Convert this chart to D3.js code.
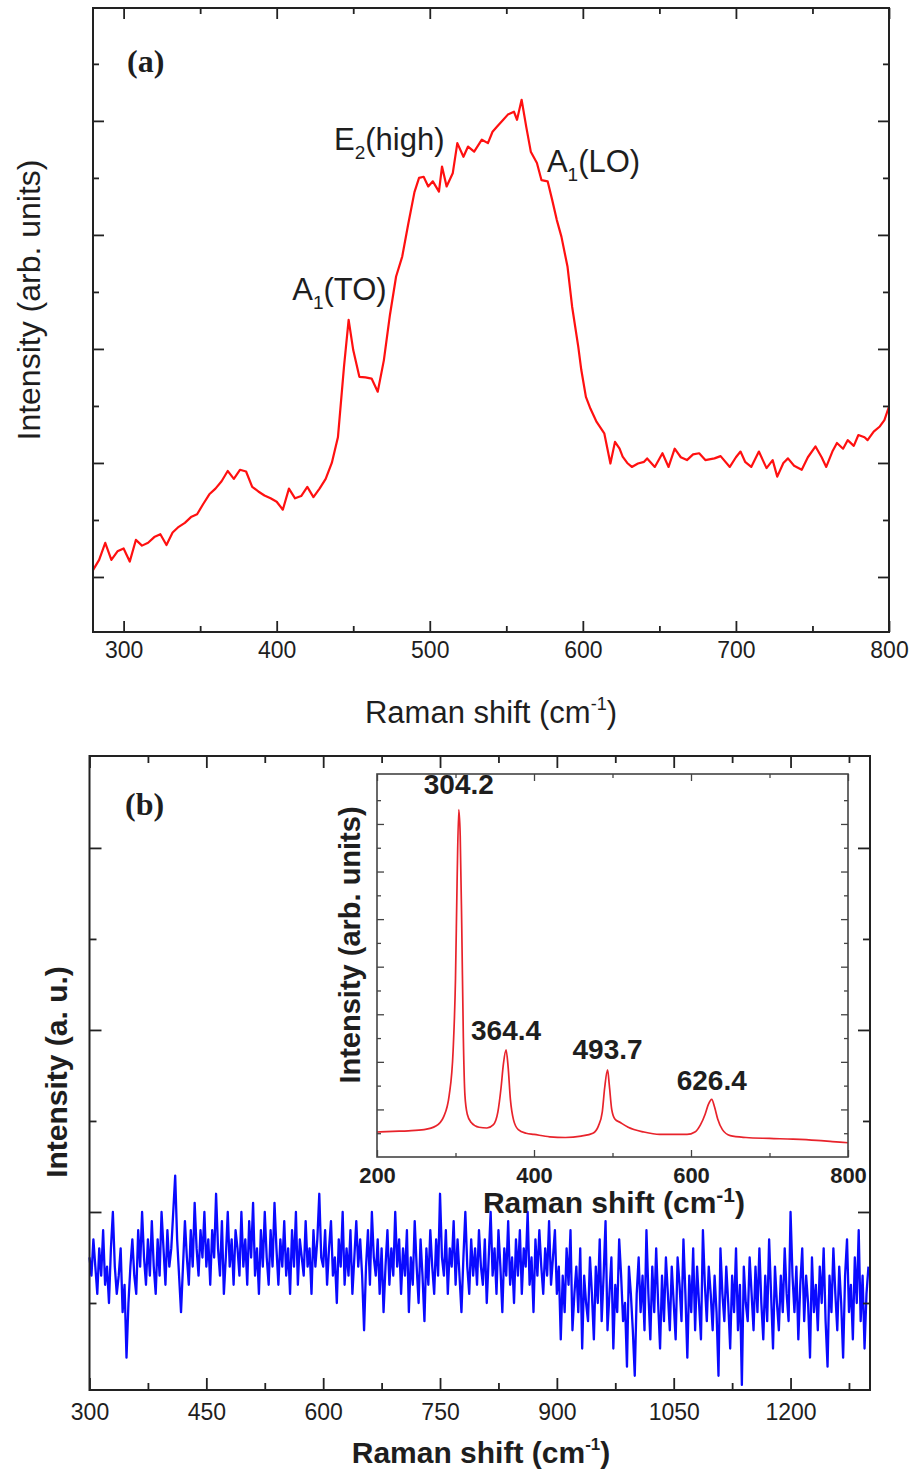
<!DOCTYPE html>
<html><head><meta charset="utf-8">
<script src="https://cdn.jsdelivr.net/npm/d3@7"></script>
<style>body{margin:0;background:#fff}svg{display:block}</style>
</head><body>
<svg id="c" width="912" height="1473"></svg>
<script>
// ---------- DATA ----------
// Panel (a): Raman spectrum (red)
const ramanAX = [280,284,288,292,296,300,304,308,312,316,320,324,328,332,336,340,344,348,352,356,360,364,368,372,376,380,384,388,392,396,400,404,408,412,416,420,424,428,432,436,440,444,447,450,454,458,462,466,470,474,478,482,486,490,493,496,499,502,506,508,511,515,518,522,525,529,534,538,541,544,548,551,555,557,560,563,566,570,573,577,580,583,586,590,593,597,599,602,605,609,614,618,621,624,626,629,632,636,640,642,647,652,656,660,664,668,672,676,680,686,690,696,700,703,706,710,715,720,724,727,731,734,738,743,747,752,756,759,763,766,770,773,777,780,784,786,790,794,797,800];
const ramanAY = [1.12,1.30,1.60,1.30,1.45,1.50,1.27,1.65,1.55,1.60,1.70,1.75,1.56,1.78,1.88,1.95,2.05,2.10,2.28,2.45,2.55,2.68,2.86,2.72,2.88,2.85,2.58,2.50,2.43,2.38,2.32,2.18,2.55,2.38,2.42,2.58,2.40,2.55,2.72,3.00,3.45,4.70,5.51,4.98,4.51,4.50,4.48,4.25,4.80,5.60,6.27,6.62,7.20,7.75,8.00,8.02,7.85,7.94,7.76,8.20,7.85,8.08,8.61,8.37,8.55,8.46,8.67,8.61,8.81,8.90,9.02,9.11,9.16,9.02,9.37,8.90,8.46,8.26,7.96,7.94,7.61,7.26,6.97,6.44,5.74,5.04,4.63,4.16,3.95,3.72,3.52,2.99,3.37,3.25,3.11,3.00,2.93,2.99,3.02,3.08,2.93,3.17,2.93,3.25,3.10,3.05,3.15,3.17,3.05,3.08,3.12,2.93,3.10,3.20,3.02,2.93,3.20,2.91,3.05,2.76,3.00,3.08,2.95,2.88,3.10,3.29,3.10,2.93,3.20,3.35,3.25,3.40,3.30,3.49,3.45,3.40,3.55,3.64,3.75,3.99];
const peakLabelsA = [
  {main:"E", sub:"2", rest:"(high)", x:473.5, y:8.49},
  {main:"A", sub:"1", rest:"(LO)", x:607, y:8.10},
  {main:"A", sub:"1", rest:"(TO)", x:441, y:5.86}
];
const ticksAXMajor = [300,400,500,600,700,800];
const ticksAXMinor = [350,450,550,650,750];
const ticksAYMajor = [1,3,5,7,9];
const ticksAYMinor = [2,4,6,8,10];

// Panel (b): main spectrum (blue), 300-1300 cm-1 every 2.5 cm-1
const ramanBStart = 300, ramanBStep = 2.5;
const ramanBY = [
 105,103,107,104,101,106,103,108,102,104,100,106,110,104,101,103,106,99,102,94,
 100,104,107,103,101,108,104,110,105,102,107,103,109,104,101,107,103,110,106,102,
 108,104,106,110,114,107,103,99,104,109,105,102,108,104,111,106,103,108,105,110,
 104,107,102,108,105,112,106,103,109,101,105,110,104,107,102,108,106,103,110,104,
 107,102,109,105,111,103,106,101,108,104,110,105,102,108,104,111,106,102,107,104,
 109,103,106,101,108,104,110,102,107,105,103,109,104,106,101,108,104,107,112,105,
 104,108,102,106,109,103,105,100,107,104,110,102,106,103,108,101,105,109,104,107,
 103,97,104,108,102,110,105,103,107,101,106,99,104,108,102,106,103,110,104,107,
 101,106,103,108,99,105,102,109,104,100,107,103,98,106,102,108,104,101,107,103,
 112,105,103,108,101,106,104,109,102,107,103,99,105,110,104,101,107,103,106,102,
 108,104,102,107,100,105,110,103,106,101,108,104,99,106,103,109,102,105,100,107,
 103,108,101,106,104,110,102,105,99,107,103,108,104,101,106,103,109,102,105,108,
 101,104,96,103,99,106,102,108,97,101,104,99,106,95,103,100,98,105,101,96,
 104,100,107,98,103,109,97,101,105,95,102,99,107,103,98,100,93,104,101,97,
 92,101,105,99,103,97,108,101,96,104,99,106,100,95,103,98,105,101,97,104,
 100,96,105,102,98,107,101,94,103,99,106,97,104,100,96,108,102,98,104,101,
 97,103,99,92,106,101,98,104,100,95,103,99,106,97,102,91,104,100,98,105,
 101,97,104,99,106,100,96,103,98,107,101,95,104,100,97,103,99,106,101,98,
 110,103,99,104,96,102,106,98,103,100,94,105,99,102,97,104,100,106,98,93,
 103,99,106,101,97,104,100,94,103,107,99,102,96,105,100,108,98,103,95,101,
 104];
const ticksBXMajor = [300,450,600,750,900,1050,1200];
const ticksBXMinor = [375,525,675,825,975,1125,1275];
const ticksBYMajor = [110,130,150];
const ticksBYMinor = [100,120,140];

// Inset (red)
const insetX = [200,220,240,260,275,285,292,297,300,302,304.2,306,308,310,312,315,320,330,340,348,354,358,361,364.4,367,370,374,380,390,400,420,440,460,475,482,487,490,493.7,496,499,503,510,520,540,560,580,595,605,612,618,622,626.4,630,634,640,650,670,700,730,760,780,800];
const insetY = [1.05,1.08,1.10,1.15,1.30,1.70,2.60,4.5,7.5,11.5,14.6,13.5,9.6,5.0,2.6,1.8,1.45,1.25,1.22,1.35,1.9,2.9,3.9,4.5,3.8,2.4,1.55,1.15,1.0,0.95,0.85,0.82,0.88,1.0,1.3,1.9,2.9,3.66,3.0,2.0,1.6,1.45,1.25,1.05,0.95,0.95,0.95,1.05,1.35,1.8,2.2,2.42,2.1,1.6,1.15,0.9,0.82,0.78,0.75,0.7,0.65,0.60];
const insetPeaks = [
  {label:"304.2", x:304.2, y:15.25},
  {label:"364.4", x:364.4, y:4.9},
  {label:"493.7", x:493.7, y:4.1},
  {label:"626.4", x:626.4, y:2.8}
];
const ticksIXMajor = [200,400,600,800];
const ticksIXMinor = [300,500,700];
const ticksIYMajor = [2,4,6,8,10,12,14];
const ticksIYMinor = [1,3,5,7,9,11,13,15];

// ---------- DRAW ----------
const svg = d3.select("#c");
const SANS = "'Liberation Sans', Arial, Helvetica, sans-serif";
const SERIF = "'Liberation Serif', 'Times New Roman', serif";
const TXT = "#1e1e1e";

function frame(g, x, y, o) {
  const [x0,x1] = x.range(), [y0,y1] = y.range(); // y0 bottom
  const mk = (axis, tr, vals, len, labels) => {
    const a = axis.tickValues(vals).tickSizeInner(-len).tickSizeOuter(0).tickPadding(o.pad||8);
    if (!labels) a.tickFormat(""); else a.tickFormat(d3.format("d"));
    const ag = g.append("g").attr("transform", tr).call(a);
    ag.select(".domain").remove();
    ag.selectAll("line").attr("stroke", o.col).attr("stroke-width", o.tw);
    return ag;
  };
  const bl = mk(d3.axisBottom(x), `translate(0,${y0})`, o.xMaj, o.maj, true);
  bl.selectAll("text").attr("font-family", SANS).attr("font-size", o.tfs)
    .attr("font-weight", o.tbold?"bold":"normal").attr("fill", TXT);
  mk(d3.axisBottom(x), `translate(0,${y0})`, o.xMin, o.min, false);
  mk(d3.axisTop(x), `translate(0,${y1})`, o.xMaj, o.maj, false);
  mk(d3.axisTop(x), `translate(0,${y1})`, o.xMin, o.min, false);
  mk(d3.axisLeft(y), `translate(${x0},0)`, o.yMaj, o.maj, false);
  mk(d3.axisLeft(y), `translate(${x0},0)`, o.yMin, o.min, false);
  mk(d3.axisRight(y), `translate(${x1},0)`, o.yMaj, o.maj, false);
  mk(d3.axisRight(y), `translate(${x1},0)`, o.yMin, o.min, false);
  g.append("rect").attr("x", x0).attr("y", y1).attr("width", x1-x0).attr("height", y0-y1)
    .attr("fill", "none").attr("stroke", o.col).attr("stroke-width", o.fw);
}
function xTitle(g, x, y, fs, bold, supFs, supDy) {
  const t = g.append("text").attr("x", x).attr("y", y).attr("text-anchor","middle")
    .attr("font-family",SANS).attr("font-weight",bold?"bold":"normal").attr("font-size",fs).attr("fill",TXT);
  t.append("tspan").text("Raman shift (cm");
  t.append("tspan").attr("font-size",supFs).attr("dy",-supDy).text("-1");
  t.append("tspan").attr("dy",supDy).text(")");
}

// ===== Panel (a) =====
const xA = d3.scaleLinear().domain([280,800]).range([93,889]);
const yA = d3.scaleLinear().domain([0.035,10.98]).range([632,8]);
const gA = svg.append("g");
gA.append("path").datum(d3.zip(ramanAX, ramanAY))
  .attr("fill","none").attr("stroke","#ff1010").attr("stroke-width",2.2).attr("stroke-linejoin","round")
  .attr("d", d3.line().x(d=>xA(d[0])).y(d=>yA(d[1])));
frame(gA, xA, yA, {xMaj:ticksAXMajor, xMin:ticksAXMinor, yMaj:ticksAYMajor, yMin:ticksAYMinor,
  maj:11, min:6, col:"#222", tw:1.8, fw:2, tfs:23, pad:10});
gA.append("text").attr("x",127).attr("y",72).attr("font-family",SERIF).attr("font-weight","bold")
  .attr("font-size",32).attr("fill",TXT).text("(a)");
peakLabelsA.forEach(p=>{
  const t = gA.append("text").attr("x",xA(p.x)).attr("y",yA(p.y)).attr("text-anchor","middle")
    .attr("font-family",SANS).attr("font-size",31).attr("fill",TXT);
  t.append("tspan").text(p.main);
  t.append("tspan").attr("font-size",19).attr("dy",9).text(p.sub);
  t.append("tspan").attr("dy",-9).text(p.rest);
});
xTitle(gA, 491, 723, 31, false, 18, 13);
gA.append("text").attr("transform",`translate(40,300) rotate(-90)`).attr("text-anchor","middle")
  .attr("font-family",SANS).attr("font-size",32).attr("fill",TXT).text("Intensity (arb. units)");

// ===== Panel (b) =====
const xB = d3.scaleLinear().domain([300,1302]).range([89.5,870]);
const yB = d3.scaleLinear().domain([90.44,160.1]).range([1390,756]);
const gB = svg.append("g");
gB.append("path").datum(ramanBY.map((v,i)=>[ramanBStart+i*ramanBStep, v]))
  .attr("fill","none").attr("stroke","#0a0aff").attr("stroke-width",2.3).attr("stroke-linejoin","round")
  .attr("d", d3.line().x(d=>xB(d[0])).y(d=>yB(d[1])));
frame(gB, xB, yB, {xMaj:ticksBXMajor, xMin:ticksBXMinor, yMaj:ticksBYMajor, yMin:ticksBYMinor,
  maj:12, min:7, col:"#222", tw:1.8, fw:2, tfs:23, pad:14});
gB.append("text").attr("x",125).attr("y",815).attr("font-family",SERIF).attr("font-weight","bold")
  .attr("font-size",32).attr("fill",TXT).text("(b)");
xTitle(gB, 481, 1463, 30, true, 17, 13);
gB.append("text").attr("transform",`translate(67,1072) rotate(-90)`).attr("text-anchor","middle")
  .attr("font-family",SANS).attr("font-weight","bold").attr("font-size",30).attr("fill",TXT).text("Intensity (a. u.)");

// ===== Inset =====
const xI = d3.scaleLinear().domain([200,800]).range([377,848]);
const yI = d3.scaleLinear().domain([0,16.1]).range([1157,774]);
const gI = svg.append("g");
gI.append("rect").attr("x",377).attr("y",774).attr("width",471).attr("height",383).attr("fill","#fff");
gI.append("path").datum(d3.zip(insetX, insetY))
  .attr("fill","none").attr("stroke","#e8232b").attr("stroke-width",1.7).attr("stroke-linejoin","round")
  .attr("d", d3.line().curve(d3.curveMonotoneX).x(d=>xI(d[0])).y(d=>yI(d[1])));
frame(gI, xI, yI, {xMaj:ticksIXMajor, xMin:ticksIXMinor, yMaj:ticksIYMajor, yMin:ticksIYMinor,
  maj:7, min:4, col:"#444", tw:1.3, fw:1.6, tfs:22, tbold:true, pad:10});
insetPeaks.forEach(p=>{
  gI.append("text").attr("x",xI(p.x)).attr("y",yI(p.y)).attr("text-anchor","middle")
    .attr("font-family",SANS).attr("font-weight","bold").attr("font-size",28).attr("fill",TXT).text(p.label);
});
xTitle(gI, 614, 1213, 30, true, 21, 11);
gI.append("text").attr("transform",`translate(360,945) rotate(-90)`).attr("text-anchor","middle")
  .attr("font-family",SANS).attr("font-weight","bold").attr("font-size",29).attr("fill",TXT).text("Intensity (arb. units)");
</script>
</body></html>
